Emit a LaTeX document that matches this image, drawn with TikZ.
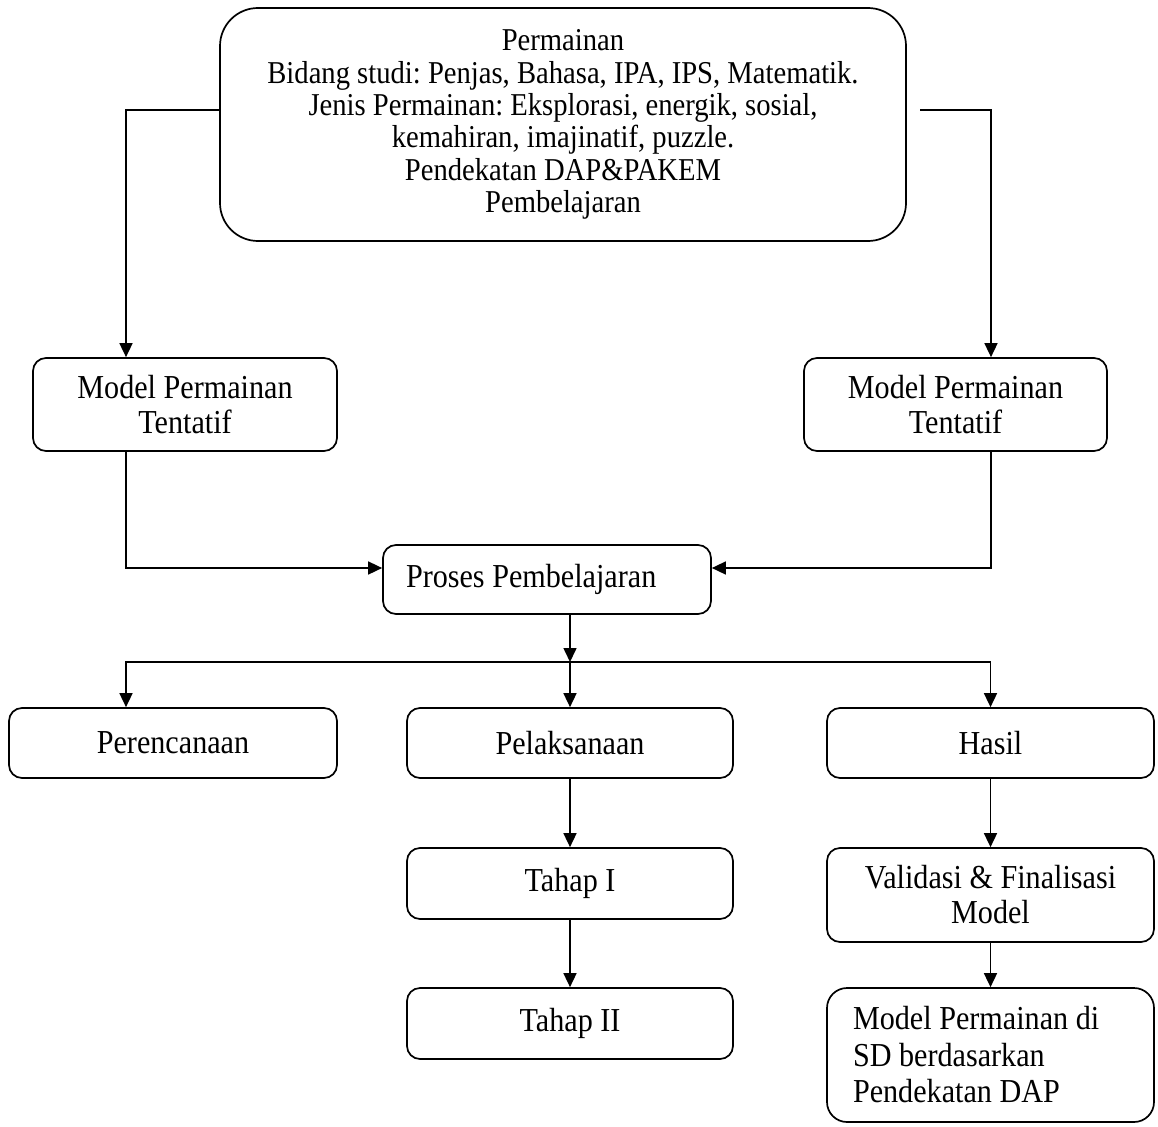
\documentclass[tikz,border=0pt]{standalone}
\usepackage{fontspec}
\setmainfont{Liberation Serif}[FakeStretch=0.9]
\usetikzlibrary{arrows.meta}
\frenchspacing
\begin{document}
\begin{tikzpicture}[x=1pt,y=-1pt,
 box/.style={draw,line width=1.7pt,rounded corners=13pt,inner sep=0pt,align=center,font=\fontsize{33.5}{35}\selectfont\frenchspacing},
 arr/.style={line width=1.6pt,-{Triangle[length=14pt,width=13pt]}}]
\useasboundingbox (0,0) rectangle (1158,1126);
\node[box, minimum width=686pt, minimum height=233pt, rounded corners=38pt, font=\fontsize{31.8}{32.4}\selectfont\frenchspacing] (top) at (563,124.5)
 {Permainan\\Bidang studi: Penjas, Bahasa, IPA, IPS, Matematik.\\Jenis Permainan: Eksplorasi, energik, sosial,\\kemahiran, imajinatif, puzzle.\\Pendekatan DAP\&PAKEM\\Pembelajaran};
\node[box, minimum width=304pt, minimum height=93pt] (lm) at (185,404.5) {Model Permainan\\Tentatif};
\node[box, minimum width=303pt, minimum height=93pt] (rm) at (955.5,404.5) {Model Permainan\\Tentatif};
\node[box, text width=282pt, inner xsep=23pt, align=flush left, minimum height=69pt] (proses) at (547,579.5) {Proses Pembelajaran};
\node[box, minimum width=328pt, minimum height=70pt] (perenc) at (173,743) {Perencanaan};
\node[box, minimum width=326pt, minimum height=70pt] (pelak) at (570,743) {Pelaksanaan};
\node[box, minimum width=327pt, minimum height=70pt] (hasil) at (990.5,743) {Hasil};
\node[box, minimum width=326pt, minimum height=71pt] (t1) at (570,883.5) {Tahap I};
\node[box, minimum width=326pt, minimum height=71pt] (t2) at (570,1023.5) {Tahap II};
\node[box, minimum width=327pt, minimum height=94pt] (val) at (990.5,895) {Validasi \& Finalisasi\\Model};
\node[box, text width=275pt, inner xsep=26pt, align=flush left, minimum height=134pt, rounded corners=20pt, font=\fontsize{33.5}{36.5}\selectfont\frenchspacing] (fin) at (990.5,1055) {Model Permainan di\\SD berdasarkan\\Pendekatan DAP};
% connectors
\draw[arr] ([yshift=14.5pt]top.west) -| (126,0 |- lm.north);
\coordinate (tr) at (920,110);
\draw[arr] (tr) -| (991,0 |- rm.north);
\draw[arr] (126,0 |- lm.south) |- ([yshift=11.5pt]proses.west);
\draw[arr] (991,0 |- rm.south) |- ([yshift=11.5pt]proses.east);
\coordinate (br) at (570,662);
\draw[arr] (570,0 |- proses.south) -- (br);
\draw[arr] (br) -| (126,0 |- perenc.north);
\draw[arr] (br) -| (hasil.north);
\draw[arr] (br) -- (pelak.north);
\draw[arr] (pelak.south) -- (t1.north);
\draw[arr] (t1.south) -- (t2.north);
\draw[arr] (hasil.south) -- (val.north);
\draw[arr] (val.south) -- (fin.north);
\end{tikzpicture}
\end{document}
